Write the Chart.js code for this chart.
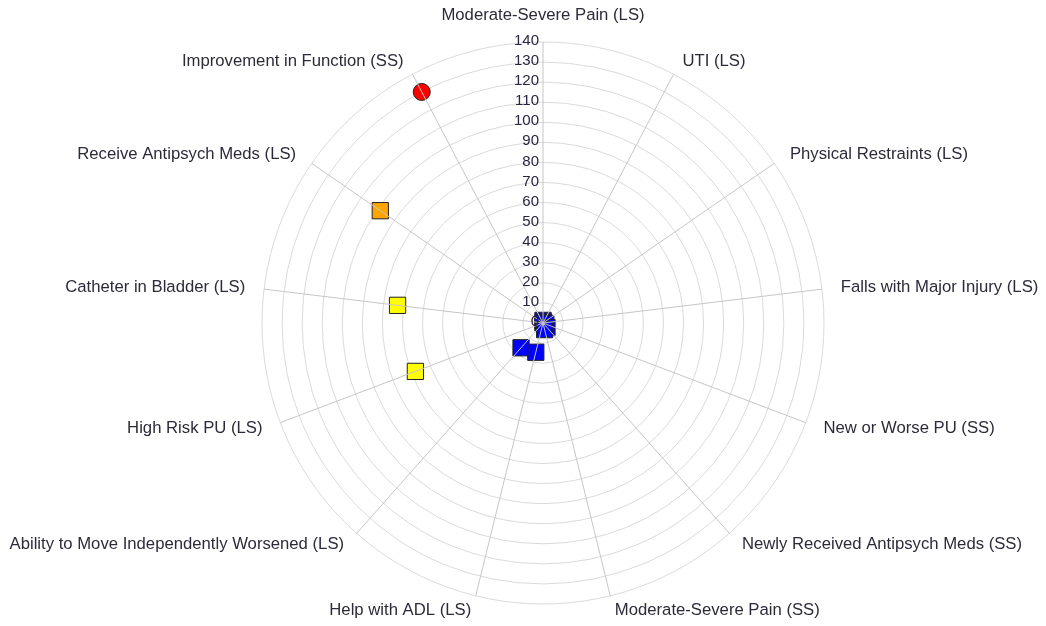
<!DOCTYPE html>
<html>
<head>
<meta charset="utf-8">
<script src="https://cdn.jsdelivr.net/npm/chart.js@4.4.0/dist/chart.umd.min.js"></script>
<style>
  html, body { margin: 0; padding: 0; background: #fff; }
  #wrap { width: 1046px; height: 626px; }
</style>
</head>
<body>
<div id="wrap"><canvas id="radar"></canvas></div>
<script>
  // datos del grafico
  const categories = [
    "Moderate-Severe Pain (LS)",
    "UTI (LS)",
    "Physical Restraints (LS)",
    "Falls with Major Injury (LS)",
    "New or Worse PU (SS)",
    "Newly Received Antipsych Meds (SS)",
    "Moderate-Severe Pain (SS)",
    "Help with ADL (LS)",
    "Ability to Move Independently Worsened (LS)",
    "High Risk PU (LS)",
    "Catheter in Bladder (LS)",
    "Receive Antipsych Meds (LS)",
    "Improvement in Function (SS)"
  ];
  const values = [1.3, 0.5, 0.5, 0, 1.5, 3, 3.4, 15, 16.5, 68, 73, 98.5, 130];
  const tickValues = [0, 10, 20, 30, 40, 50, 60, 70, 80, 90, 100, 110, 120, 130, 140];

  // estilo de cada marcador
  const markerColors = [
    "#0000ff", "#0000ff", "#0000ff", "#0000ff", "#0000ff", "#0000ff", "#0000ff",
    "#0000ff", "#0000ff", "#ffff00", "#ffff00", "#ffa500", "#ff0000"
  ];
  const markerShapes = categories.map((c, i) => (i === categories.length - 1 ? "circle" : "rect"));
  const markerSizes = markerShapes.map((s) => (s === "circle" ? 8.5 : 11.5));

  const labelFont = '16.7px "Liberation Sans", Arial, sans-serif';
  const tickFont = '15px "Liberation Sans", Arial, sans-serif';

  /* ---------------------------------------------------
     lineas radiales + textos encima de los puntos
  --------------------------------------------------- */
  const overlay = {
    id: "overlay",
    afterDatasetsDraw(chart) {
      const s = chart.scales.r;
      const ctx = chart.ctx;
      ctx.save();

      ctx.strokeStyle = "#c6c6c6";
      ctx.lineWidth = 1;
      categories.forEach((c, i) => {
        const p = s.getPointPosition(i, s.drawingArea);
        ctx.beginPath();
        ctx.moveTo(s.xCenter, s.yCenter);
        ctx.lineTo(p.x, p.y);
        ctx.stroke();
      });

      // ticks alineados a la derecha del eje
      ctx.font = tickFont;
      ctx.fillStyle = "#2a2440";
      ctx.textAlign = "right";
      ctx.textBaseline = "middle";
      s.ticks.forEach((t) => {
        const d = s.getDistanceFromCenterForValue(t.value);
        ctx.fillText(t.label, s.xCenter - 4, s.yCenter - d - 1);
      });

      // etiquetas de cada eje
      ctx.font = labelFont;
      ctx.fillStyle = "#2e2a3a";
      categories.forEach((c, i) => {
        const deg = Math.round((s.getIndexAngle(i) * 180) / Math.PI) % 360;
        const px = s.getPointPosition(i, s.drawingArea + 19);
        const py = s.getPointPosition(i, s.drawingArea + 15);
        let y = py.y;
        if (deg === 0) {
          ctx.textAlign = "center";
          y = s.yCenter - s.drawingArea - 27;
        } else if (deg < 180) {
          ctx.textAlign = "left";
        } else {
          ctx.textAlign = "right";
        }
        ctx.fillText(c, px.x, y);
      });

      ctx.restore();
    }
  };

  new Chart(document.getElementById("radar"), {
    type: "radar",
    data: {
      labels: categories,
      datasets: [
        {
          data: values,
          showLine: false,
          fill: false,
          borderWidth: 0,
          pointStyle: markerShapes,
          pointRadius: markerSizes,
          pointBackgroundColor: markerColors,
          pointBorderColor: "#222",
          pointBorderWidth: 1
        }
      ]
    },
    options: {
      responsive: true,
      maintainAspectRatio: false,
      animation: false,
      layout: { padding: { left: 100, right: 60, top: 42, bottom: 22 } },
      plugins: {
        legend: { display: false },
        tooltip: { enabled: false }
      },
      scales: {
        r: {
          min: tickValues[0],
          max: tickValues[tickValues.length - 1],
          ticks: { display: false, stepSize: tickValues[1] - tickValues[0] },
          pointLabels: { display: false },
          angleLines: { display: false },
          grid: { circular: true, color: "#dadada", lineWidth: 1 }
        }
      }
    },
    plugins: [overlay]
  });
</script>
</body>
</html>
